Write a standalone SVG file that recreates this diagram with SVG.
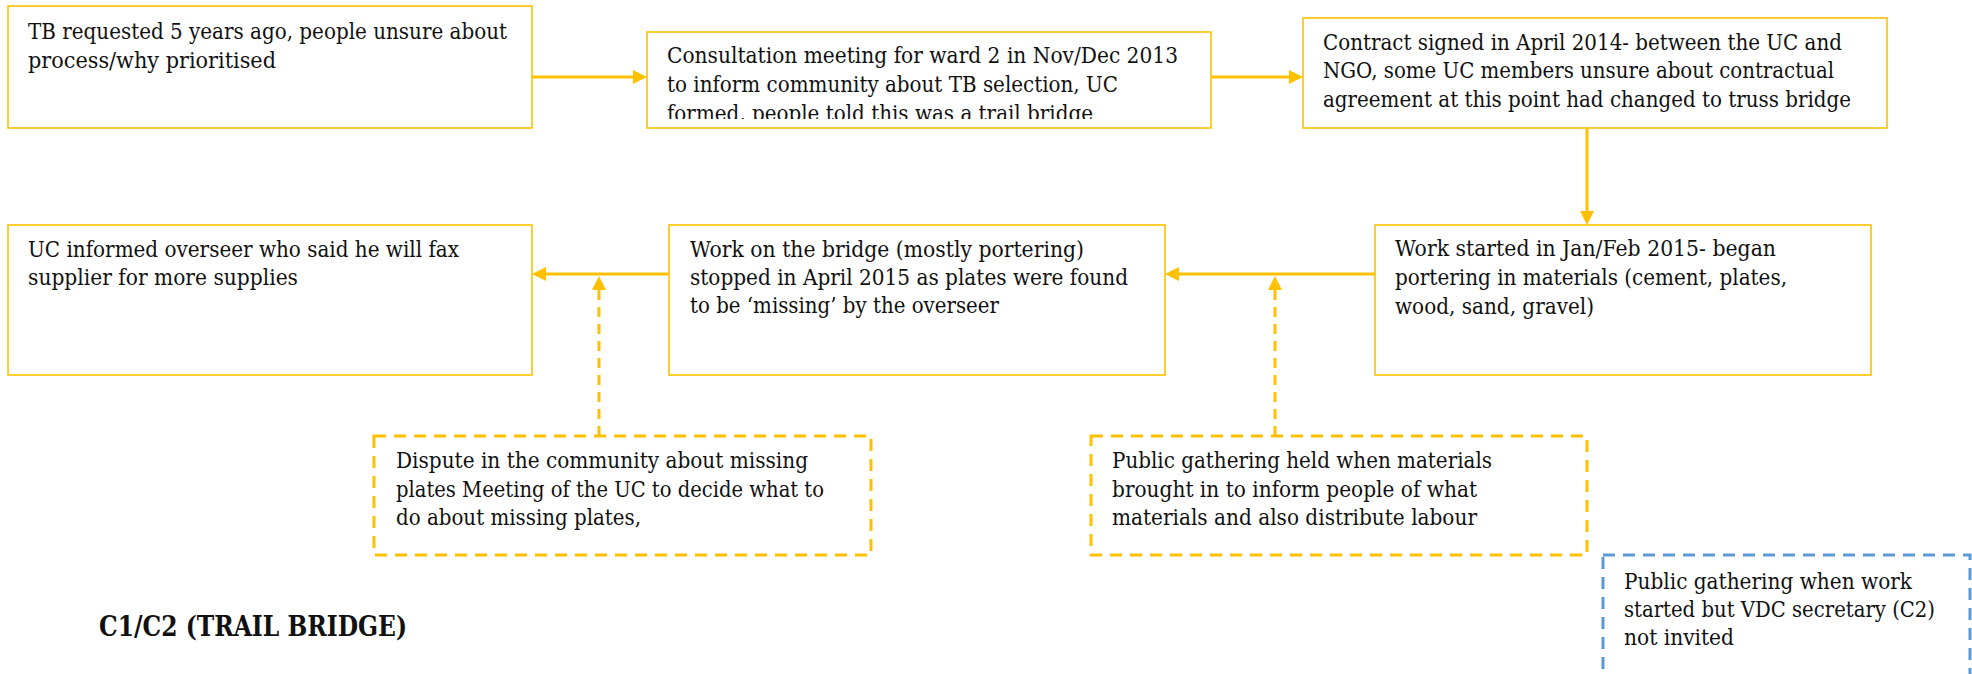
<svg xmlns="http://www.w3.org/2000/svg" width="1972" height="674" viewBox="0 0 1972 674">
<style>
.box{fill:#fff;stroke:#FFC000;stroke-width:1.6}
.dbox{fill:#fff;stroke:#FFC000;stroke-width:3;stroke-dasharray:12 8}
.bbox{fill:#fff;stroke:#5B9BD5;stroke-width:3;stroke-dasharray:12 8}
.t{font-family:"DejaVu Serif","Liberation Serif",serif;font-size:22px;fill:#111}
.title{font-family:"DejaVu Serif","Liberation Serif",serif;font-size:27px;font-weight:bold;fill:#111}
.c{stroke:#FFC000;stroke-width:3;fill:none}
.cd{stroke:#FFC000;stroke-width:3;fill:none;stroke-dasharray:10 7}
</style>
<defs>
<marker id="ah" markerUnits="userSpaceOnUse" viewBox="0 0 14 14" markerWidth="14" markerHeight="14" refX="0" refY="7" orient="auto">
<path d="M0,0 L14,7 L0,14 z" fill="#FFC000"/>
</marker>
<clipPath id="clip2"><rect x="647" y="32" width="564" height="87"/></clipPath>
</defs>
<rect width="1972" height="674" fill="#fff"/>
<g id="connectors">
<line class="c" x1="532" y1="77" x2="633" y2="77" marker-end="url(#ah)"/>
<line class="c" x1="1211" y1="77" x2="1289" y2="77" marker-end="url(#ah)"/>
<line class="c" x1="1587" y1="128" x2="1587" y2="211" marker-end="url(#ah)"/>
<line class="c" x1="1375" y1="274" x2="1179" y2="274" marker-end="url(#ah)"/>
<line class="c" x1="669" y1="274" x2="546" y2="274" marker-end="url(#ah)"/>
<line class="cd" x1="599" y1="436" x2="599" y2="290" marker-end="url(#ah)"/>
<line class="cd" x1="1275" y1="436" x2="1275" y2="290" marker-end="url(#ah)"/>
</g>
<g id="n1">
<rect class="box" x="8" y="6" width="524" height="122"/>
<text class="t" x="28" y="39" textLength="479" lengthAdjust="spacingAndGlyphs">TB requested 5 years ago, people unsure about</text>
<text class="t" x="28" y="68" textLength="248" lengthAdjust="spacingAndGlyphs">process/why prioritised</text>
</g>
<g id="n2">
<rect class="box" x="647" y="32" width="564" height="96"/>
<g clip-path="url(#clip2)">
<text class="t" x="667" y="63" textLength="511" lengthAdjust="spacingAndGlyphs">Consultation meeting for ward 2 in Nov/Dec 2013</text>
<text class="t" x="667" y="92" textLength="451" lengthAdjust="spacingAndGlyphs">to inform community about TB selection, UC</text>
<text class="t" x="667" y="121" textLength="426" lengthAdjust="spacingAndGlyphs">formed, people told this was a trail bridge</text>
</g>
</g>
<g id="n3">
<rect class="box" x="1303" y="18" width="584" height="110"/>
<text class="t" x="1323" y="50" textLength="519" lengthAdjust="spacingAndGlyphs">Contract signed in April 2014- between the UC and</text>
<text class="t" x="1323" y="78" textLength="511" lengthAdjust="spacingAndGlyphs">NGO, some UC members unsure about contractual</text>
<text class="t" x="1323" y="107" textLength="528" lengthAdjust="spacingAndGlyphs">agreement at this point had changed to truss bridge</text>
</g>
<g id="n4">
<rect class="box" x="1375" y="225" width="496" height="150"/>
<text class="t" x="1395" y="256" textLength="381" lengthAdjust="spacingAndGlyphs">Work started in Jan/Feb 2015- began</text>
<text class="t" x="1395" y="285" textLength="392" lengthAdjust="spacingAndGlyphs">portering in materials (cement, plates,</text>
<text class="t" x="1395" y="314" textLength="199" lengthAdjust="spacingAndGlyphs">wood, sand, gravel)</text>
</g>
<g id="n5">
<rect class="box" x="669" y="225" width="496" height="150"/>
<text class="t" x="690" y="257" textLength="394" lengthAdjust="spacingAndGlyphs">Work on the bridge (mostly portering)</text>
<text class="t" x="690" y="285" textLength="438" lengthAdjust="spacingAndGlyphs">stopped in April 2015 as plates were found</text>
<text class="t" x="690" y="313" textLength="309" lengthAdjust="spacingAndGlyphs">to be ‘missing’ by the overseer</text>
</g>
<g id="n6">
<rect class="box" x="8" y="225" width="524" height="150"/>
<text class="t" x="28" y="257" textLength="431" lengthAdjust="spacingAndGlyphs">UC informed overseer who said he will fax</text>
<text class="t" x="28" y="285" textLength="270" lengthAdjust="spacingAndGlyphs">supplier for more supplies</text>
</g>
<g id="n7">
<rect class="dbox" x="374" y="436" width="497" height="119"/>
<text class="t" x="396" y="468" textLength="412" lengthAdjust="spacingAndGlyphs">Dispute in the community about missing</text>
<text class="t" x="396" y="497" textLength="428" lengthAdjust="spacingAndGlyphs">plates Meeting of the UC to decide what to</text>
<text class="t" x="396" y="525" textLength="245" lengthAdjust="spacingAndGlyphs">do about missing plates,</text>
</g>
<g id="n8">
<rect class="dbox" x="1091" y="436" width="496" height="119"/>
<text class="t" x="1112" y="468" textLength="380" lengthAdjust="spacingAndGlyphs">Public gathering held when materials</text>
<text class="t" x="1112" y="497" textLength="365" lengthAdjust="spacingAndGlyphs">brought in to inform people of what</text>
<text class="t" x="1112" y="525" textLength="365" lengthAdjust="spacingAndGlyphs">materials and also distribute labour</text>
</g>
<g id="n9">
<rect class="bbox" x="1603" y="555" width="367" height="140"/>
<text class="t" x="1624" y="589" textLength="288" lengthAdjust="spacingAndGlyphs">Public gathering when work</text>
<text class="t" x="1624" y="617" textLength="311" lengthAdjust="spacingAndGlyphs">started but VDC secretary (C2)</text>
<text class="t" x="1624" y="645" textLength="110" lengthAdjust="spacingAndGlyphs">not invited</text>
</g>
<g id="title">
<text class="title" x="99" y="636" textLength="308" lengthAdjust="spacingAndGlyphs">C1/C2 (TRAIL BRIDGE)</text>
</g>
</svg>
